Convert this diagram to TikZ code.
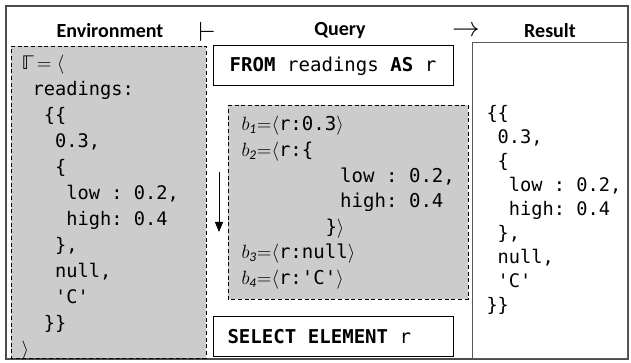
\documentclass[tikz,border=0pt]{standalone}
\usepackage{fontspec}
\setmainfont{Carlito}
\setmonofont{DejaVu Sans Mono}
\newfontfamily\dblfont{DejaVu Sans}
\usetikzlibrary{arrows.meta}

\newcommand{\ind}[1]{\hspace*{#1\fontcharwd\font`0}}
\tikzset{every picture/.style={line width=0.75pt}}
\tikzset{
  graybox/.style={draw=black, densely dashed, line width=0.5pt, fill=black!20},
  codetext/.style={anchor=north west, inner sep=0.75pt, align=left,
    font=\ttfamily\fontsize{14}{18}\selectfont},
  headtext/.style={inner sep=0.75pt, font=\bfseries\fontsize{15}{17}\selectfont}
}

\begin{document}
\begin{tikzpicture}[x=0.75pt,y=0.75pt,yscale=-1,xscale=1]
\useasboundingbox (0,0) rectangle (631,363);

%Shape: Rectangle [outer frame]
\draw [color=black!70, line width=1.3pt] (6,6) -- (628,6) -- (628,359) -- (6,359) -- cycle ;
%Shape: Rectangle [environment]
\draw [graybox] (11,46) -- (206,46) -- (206,358) -- (11,358) -- cycle ;
%Shape: Rectangle [from]
\draw (213,46) -- (453,46) -- (453,86) -- (213,86) -- cycle ;
%Shape: Rectangle [bindings]
\draw [graybox] (228,105) -- (468,105) -- (468,299) -- (228,299) -- cycle ;
%Shape: Rectangle [select]
\draw (213,316) -- (453,316) -- (453,356) -- (213,356) -- cycle ;
%Shape: Rectangle [result]
\draw [color=black!65] (472,43) -- (627,43) -- (627,358) -- (472,358) -- cycle ;

%Straight Lines [iteration]
\coordinate (itertop) at (219,172);
\coordinate (iterbot) at (219,232);
\draw [-{Triangle[length=7.5pt,width=6pt]}] (itertop) -- (iterbot) ;

% Text Node
\draw (110,31) node [headtext] (envhead) {Environment};
% Text Node
\draw (207,32) node [inner sep=0.75pt, font=\fontsize{22}{22}\selectfont] (turnstile) {$\vdash$};
% Text Node
\draw (340,31) node [headtext] (queryhead) {Query};
% Text Node
\draw (466,31) node [inner sep=0.75pt, font=\fontsize{22}{22}\selectfont] (yields) {$\rightarrow$};
% Text Node
\draw (550,31) node [headtext] (resulthead) {Result};

% Text Node
\draw (20,54) node [codetext, font=\ttfamily\fontsize{14}{19.5}\selectfont] (envcode) {{\dblfont ℾ}$\,{=}\;\langle$\\
\ind{1}readings:\\
\ind{2}\{\{\\
\ind{3}0.3,\\
\ind{3}\{\\
\ind{4}low : 0.2,\\
\ind{4}high: 0.4\\
\ind{3}\},\\
\ind{3}null,\\
\ind{3}'C'\\
\ind{2}\}\}\\
$\rangle$};

% Text Node
\draw (333,66) node [inner sep=0.75pt, font=\ttfamily\fontsize{14.3}{17}\selectfont] (fromclause) {\textbf{FROM} readings \textbf{AS} r};
% Text Node
\draw (240,115) node [codetext, font=\ttfamily\fontsize{14.3}{19.2}\selectfont] (bindings) {$b_{\mathit{1}}{=}\langle$r:0.3$\rangle$\\
$b_{\mathit{2}}{=}\langle$r:\{\\
\hspace*{74pt}low : 0.2,\\
\hspace*{74pt}high: 0.4\\
\hspace*{63pt}\}$\rangle$\\
$b_{\mathit{3}}{=}\langle$r:null$\rangle$\\
$b_{\mathit{4}}{=}\langle$r:'C'$\rangle$};
% Text Node
\draw (226,337) node [anchor=west, inner sep=0.75pt, font=\ttfamily\fontsize{14.3}{17}\selectfont] (selectclause) {\textbf{SELECT ELEMENT} r};

% Text Node
\draw (485,104) node [codetext] (resultcode) {\{\{\\
\ind{1}0.3,\\
\ind{1}\{\\
\ind{2}low : 0.2,\\
\ind{2}high: 0.4\\
\ind{1}\},\\
\ind{1}null,\\
\ind{1}'C'\\
\}\}};

\end{tikzpicture}
\end{document}
